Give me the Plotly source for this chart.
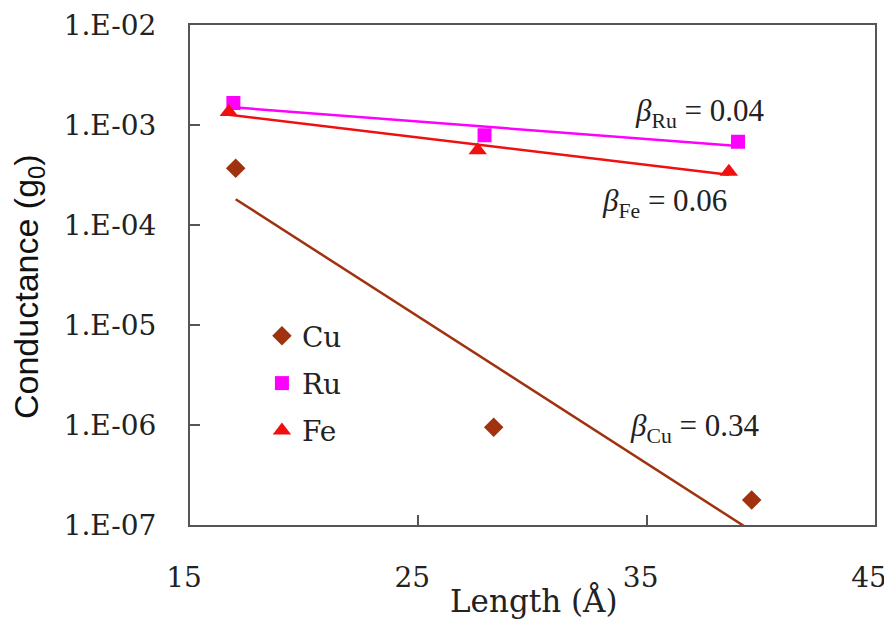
import numpy as np
import plotly.graph_objects as go

# Data
cu_x = [17.0, 28.3, 39.6]
cu_y = [3.7e-4, 9.5e-7, 1.78e-7]
ru_x = [16.9, 27.9, 39.0]
ru_y = [1.66e-3, 7.9e-4, 6.8e-4]
fe_x = [16.7, 27.6, 38.6]
fe_y = [1.35e-3, 5.6e-4, 3.4e-4]

y_tickvals = [1e-7, 1e-6, 1e-5, 1e-4, 1e-3, 1e-2]
y_ticktext = ["1.E-07", "1.E-06", "1.E-05", "1.E-04", "1.E-03", "1.E-02"]
x_tickvals = [15, 25, 35, 45]
x_ticktext = ["15", "25", "35", "45"]

CU_C = "#A0320F"
RU_C = "#FF00FF"
FE_C = "#F01010"


def fit_line(xs, ys):
    xs = np.asarray(xs, float)
    ly = np.log(np.asarray(ys, float))
    k, b = np.polyfit(xs, ly, 1)
    xx = np.array([xs.min(), xs.max()])
    return xx, np.exp(k * xx + b)


fig = go.Figure()
for xs, ys, c in [(cu_x, cu_y, CU_C), (ru_x, ru_y, RU_C), (fe_x, fe_y, FE_C)]:
    lx, lyv = fit_line(xs, ys)
    fig.add_trace(go.Scatter(x=lx, y=lyv, mode="lines",
                             line=dict(color=c, width=2.5),
                             showlegend=False, hoverinfo="skip"))

fig.add_trace(go.Scatter(x=cu_x, y=cu_y, mode="markers", name="Cu", legendgroup="a",
                         marker=dict(symbol="diamond", size=15, color=CU_C)))
fig.add_trace(go.Scatter(x=ru_x, y=ru_y, mode="markers", name="Ru", legendgroup="b",
                         marker=dict(symbol="square", size=14, color=RU_C)))
fig.add_trace(go.Scatter(x=fe_x, y=fe_y, mode="markers", name="Fe", legendgroup="c",
                         marker=dict(symbol="triangle-up", size=16, color=FE_C)))

serif = "DejaVu Serif"
axis_line = "#555555"

fig.update_layout(
    width=884, height=614,
    margin=dict(l=182, r=17, t=17, b=97, autoexpand=False),
    paper_bgcolor="white", plot_bgcolor="white",
    showlegend=True,
    legend=dict(x=0.105, y=0.428, xanchor="left", yanchor="top",
                font=dict(family=serif, size=28, color="#222222"),
                bgcolor="rgba(0,0,0,0)", tracegroupgap=8, itemwidth=30),
    xaxis=dict(range=[15, 45], tickvals=x_tickvals, ticktext=x_ticktext,
               showgrid=False, zeroline=False, showline=True, mirror=True,
               linecolor=axis_line, linewidth=2, ticks="inside", ticklen=10,
               tickcolor=axis_line, tickwidth=1.5, automargin=False,
               ticklabeloverflow="allow", ticklabelshift=-6,
               tickfont=dict(family=serif, size=28, color="#222222"),
               ticklabelstandoff=26),
    yaxis=dict(type="log", range=[-7, -2], tickvals=y_tickvals, ticktext=y_ticktext,
               showgrid=False, zeroline=False, showline=True, mirror=True,
               linecolor=axis_line, linewidth=2, ticks="inside", ticklen=10,
               tickcolor=axis_line, tickwidth=1.5, automargin=False,
               ticklabeloverflow="allow",
               tickfont=dict(family=serif, size=28, color="#222222"),
               ticklabelstandoff=26),
)

annots = [
    dict(text="<i>β</i><sub>Ru</sub> = 0.04", x=0.647, y=0.824),
    dict(text="<i>β</i><sub>Fe</sub> = 0.06", x=0.599, y=0.644),
    dict(text="<i>β</i><sub>Cu</sub> = 0.34", x=0.639, y=0.194),
]
for a in annots:
    fig.add_annotation(text=a["text"], x=a["x"], y=a["y"], xref="paper", yref="paper",
                       xanchor="left", yanchor="middle", showarrow=False,
                       font=dict(family="Liberation Serif", size=31, color="#222222"))

fig.add_annotation(text="Conductance (g<sub>0</sub>)", x=-0.2365, y=0.478,
                   xref="paper", yref="paper", textangle=-90, showarrow=False,
                   xanchor="center", yanchor="middle",
                   font=dict(family="Liberation Sans", size=34, color="#111111"))
fig.add_annotation(text="Length (Å)", x=0.502, y=-0.192, xref="paper", yref="paper",
                   showarrow=False, xanchor="center", yanchor="bottom",
                   font=dict(family=serif, size=31, color="#222222"))

fig.write_html("out.html")
